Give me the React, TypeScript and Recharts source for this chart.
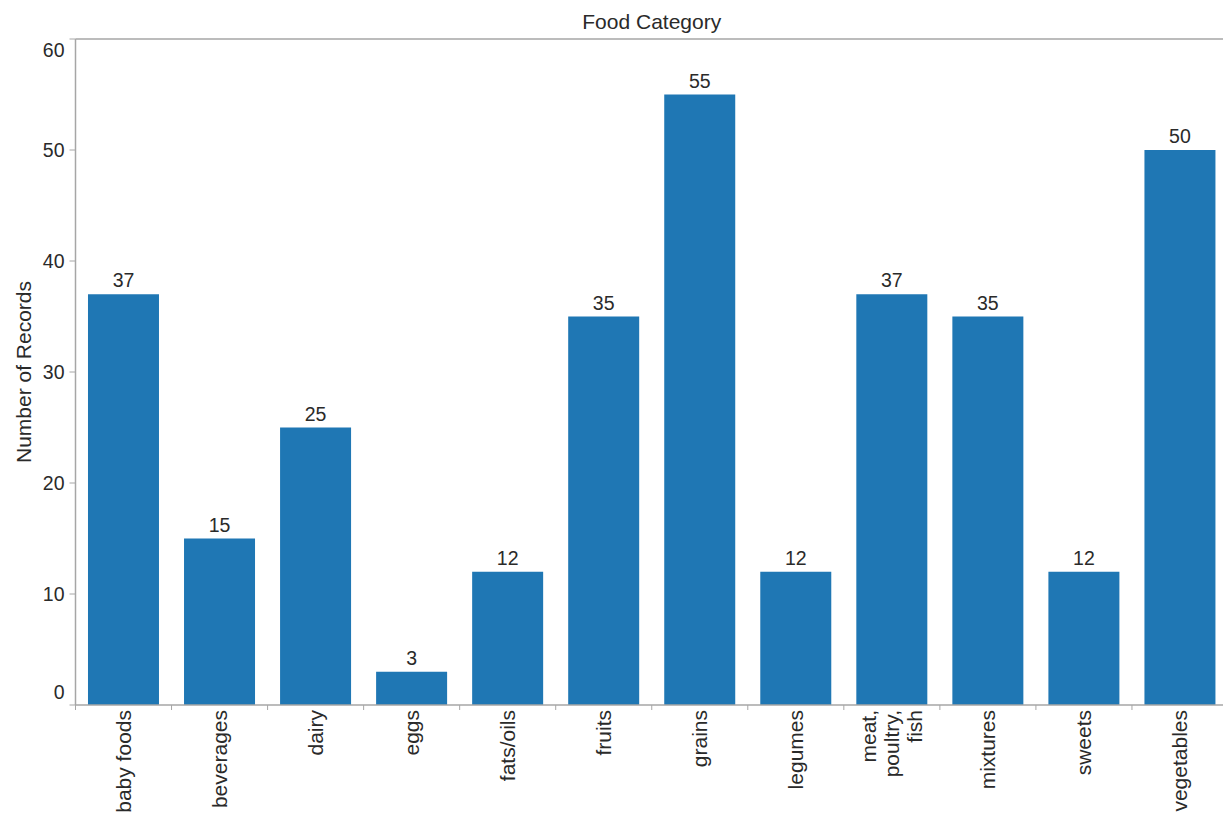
import React from 'react';
import { BarChart, Bar, XAxis, YAxis, LabelList } from 'recharts';

const categories = ['baby foods', 'beverages', 'dairy', 'eggs', 'fats/oils', 'fruits', 'grains', 'legumes', 'meat, poultry, fish', 'mixtures', 'sweets', 'vegetables'];
const counts = [37, 15, 25, 3, 12, 35, 55, 12, 37, 35, 12, 50];
const yTicks = [0, 10, 20, 30, 40, 50, 60];

const data = categories.map((c, i) => ({ category: c, count: counts[i] }));

const FONT = '"Liberation Sans", Arial, sans-serif';
const TEXT = '#2a2a2a';
const AXIS = '#a6a6a6';
const BAR = '#1f77b4';

const CHART_W = 1228;
const CHART_H = 817;
const Y_AXIS_W = 75.5;
const PLOT_W = CHART_W - Y_AXIS_W;

const XTick = (props: any) => {
  const { x, y, payload } = props;
  const parts = String(payload.value).split(', ');
  const lines = parts.map((p, i) => (i < parts.length - 1 ? p + ',' : p));
  const n = lines.length;
  const band = PLOT_W / categories.length;
  return (
    <g>
      <line x1={x - band / 2} x2={x - band / 2} y1={y - 5} y2={y} stroke={AXIS} strokeWidth={1} />
      {lines.map((l, i) => (
        <text
          key={i}
          transform={`translate(${x + (i - (n - 1) / 2) * 23}, ${y}) rotate(-90)`}
          textAnchor="end"
          dy="0.35em"
          fontSize={21}
          fontFamily={FONT}
          fill={TEXT}
        >
          {l}
        </text>
      ))}
    </g>
  );
};

const YTick = (props: any) => {
  const { x, y, payload } = props;
  const cy = Math.min(Math.max(y, 50), 692);
  return (
    <text x={x} y={cy} dy="0.35em" textAnchor="end" fontSize={19.5} fontFamily={FONT} fill={TEXT}>
      {payload.value}
    </text>
  );
};

export default function App() {
  return (
    <div style={{ position: 'absolute', left: 0, top: 0, width: 1223, height: 817, overflow: 'hidden', background: '#fff' }}>
      <BarChart
        width={CHART_W}
        height={CHART_H}
        data={data}
        margin={{ top: 0, right: 0, bottom: 0, left: 0 }}
        barCategoryGap="13%"
      >
        <XAxis
          xAxisId="top"
          orientation="top"
          dataKey="category"
          height={39}
          tick={false}
          tickLine={false}
          axisLine={{ stroke: AXIS, strokeWidth: 1.5 }}
          label={{
            content: (p: any) => {
              const vb = p.viewBox || {};
              return (
                <text x={vb.x + vb.width / 2} y={22} dy="0.35em" textAnchor="middle" fontSize={21} fontFamily={FONT} fill={TEXT}>
                  Food Category
                </text>
              );
            },
          }}
        />
        <XAxis
          dataKey="category"
          height={112}
          interval={0}
          tickSize={0}
          tickMargin={5}
          tick={<XTick />}
          axisLine={{ stroke: AXIS, strokeWidth: 1.5 }}
        />
        <YAxis
          width={Y_AXIS_W}
          domain={[0, 60]}
          ticks={yTicks}
          interval={0}
          tickSize={6}
          tickMargin={5}
          tick={<YTick />}
          tickLine={{ stroke: AXIS }}
          axisLine={{ stroke: AXIS, strokeWidth: 1.5 }}
          label={{
            content: (p: any) => {
              const vb = p.viewBox || {};
              const cy = vb.y + vb.height / 2;
              return (
                <text transform={`translate(24, ${cy}) rotate(-90)`} dy="0.35em" textAnchor="middle" fontSize={21} fontFamily={FONT} fill={TEXT}>
                  Number of Records
                </text>
              );
            },
          }}
        />
        <Bar dataKey="count" fill={BAR} isAnimationActive={false} xAxisId={0}>
          <LabelList dataKey="count" position="top" offset={7} fontSize={19.5} fontFamily={FONT} fill={TEXT} />
        </Bar>
      </BarChart>
    </div>
  );
}
